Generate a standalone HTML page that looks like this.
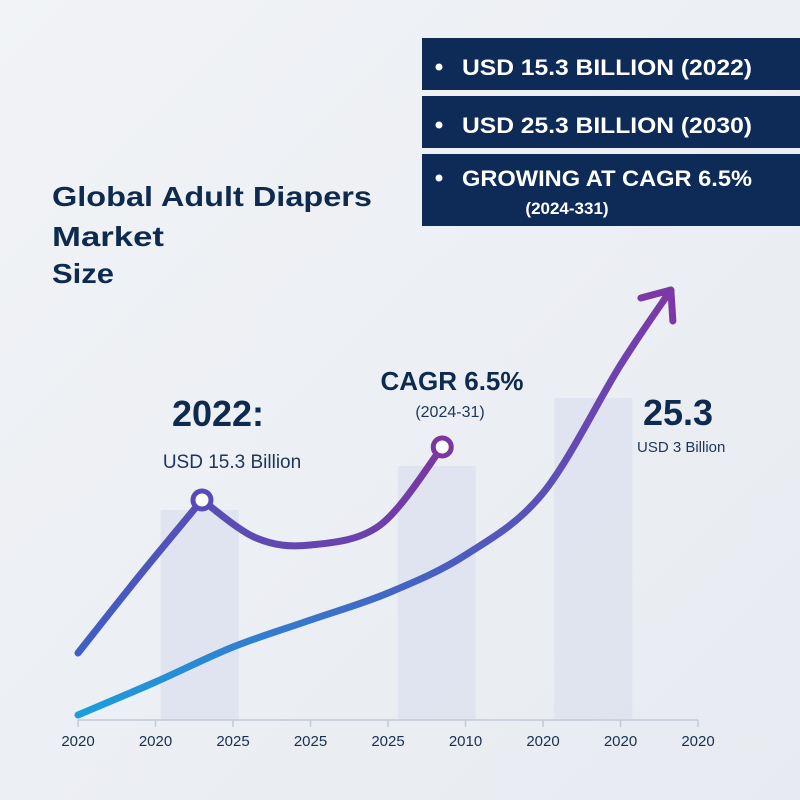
<!DOCTYPE html>
<html><head><meta charset="utf-8"><style>
body{margin:0;width:800px;height:800px;overflow:hidden;background:#eef1f5}
svg{display:block}
text{font-family:"Liberation Sans",sans-serif}
</style></head><body>
<svg width="800" height="800" viewBox="0 0 800 800">
<defs>
<linearGradient id="bg" x1="0" y1="0" x2="1" y2="1"><stop offset="0" stop-color="#f1f3f6"/><stop offset="1" stop-color="#e7ebf1"/></linearGradient>
<linearGradient id="gLow" x1="78" y1="715" x2="668" y2="290" gradientUnits="userSpaceOnUse"><stop offset="0" stop-color="#1a9fdc"/><stop offset="0.5" stop-color="#4760c2"/><stop offset="1" stop-color="#7c38a6"/></linearGradient>
<linearGradient id="gUp" x1="78" y1="653" x2="447" y2="447" gradientUnits="userSpaceOnUse"><stop offset="0" stop-color="#3f5fc4"/><stop offset="1" stop-color="#7c36a0"/></linearGradient>
</defs>
<rect width="800" height="800" fill="url(#bg)"/>
<g fill="#0e2b4f" font-weight="bold" font-size="28">
<text x="52" y="206" textLength="320" lengthAdjust="spacingAndGlyphs">Global Adult Diapers</text>
<text x="52" y="246" textLength="112" lengthAdjust="spacingAndGlyphs">Market</text>
<text x="52" y="283" textLength="62" lengthAdjust="spacingAndGlyphs">Size</text>
</g>
<g fill="#0e2b57">
<rect x="422" y="38" width="378" height="52"/>
<rect x="422" y="96" width="378" height="52"/>
<rect x="422" y="154" width="378" height="72"/>
</g>
<g fill="#ffffff" font-weight="bold" font-size="22">
<circle cx="439" cy="67" r="3.5"/><text x="462" y="75" textLength="290" lengthAdjust="spacingAndGlyphs">USD 15.3 BILLION (2022)</text>
<circle cx="439" cy="125" r="3.5"/><text x="462" y="133" textLength="290" lengthAdjust="spacingAndGlyphs">USD 25.3 BILLION (2030)</text>
<circle cx="439" cy="178" r="3.5"/><text x="462" y="186" textLength="290" lengthAdjust="spacingAndGlyphs">GROWING AT CAGR 6.5%</text>
<text x="567" y="214" font-size="17" text-anchor="middle">(2024-331)</text>
</g>
<g id="plot"></g>
<g fill="#0e2b4f">
<text x="218" y="426" font-size="36" font-weight="bold" text-anchor="middle">2022:</text>
<text x="232" y="468" font-size="19" text-anchor="middle" fill="#1e3555">USD 15.3 Billion</text>
<text x="452" y="390" font-size="26" font-weight="bold" text-anchor="middle">CAGR 6.5%</text>
<text x="450" y="417" font-size="16" text-anchor="middle" fill="#1e3555">(2024-31)</text>
<text x="643" y="425" font-size="36" font-weight="bold">25.3</text>
<text x="637" y="452" font-size="15" fill="#1e3555">USD 3 Billion</text>
</g>
</svg>
<script>
const tickLabels=["2020","2020","2025","2025","2025","2010","2020","2020","2020"];
const barIdx=[1.57,4.63,6.65];
const barValues=[21,25.4,32.2];
const upperX=[0,0.8,1.6];
const upperY=[6.7,14.5,22];
const upper2X=[1.6,2.3,3,3.9,4.7];
const upper2Y=[22,18.2,17.5,19.5,27.3];
const lowerX=[0,1,2,3,4,5,6,7,7.65];
const lowerY=[0.5,3.8,7.3,10,12.7,16.5,22.7,35.5,43];
const sx=i=>78+77.5*i;
const sy=v=>720-10*v;
const NS="http://www.w3.org/2000/svg";
const plot=document.getElementById('plot');
function mk(t,a){const e=document.createElementNS(NS,t);for(const k in a)e.setAttribute(k,a[k]);plot.appendChild(e);return e;}
barValues.forEach((v,i)=>{const b=mk('rect',{x:sx(barIdx[i])-39,y:sy(v),width:78,height:720-sy(v),fill:'#dde2ee',opacity:0.85});

});
const ax=mk('line',{x1:sx(0),y1:720,x2:sx(8),y2:720,stroke:'#c3c9d6','stroke-width':1.5});


tickLabels.forEach((t,i)=>{const tk=mk('line',{x1:sx(i),y1:720,x2:sx(i),y2:727,stroke:'#c3c9d6','stroke-width':1.5});


const tx=mk('text',{x:sx(i),y:746,'text-anchor':'middle','font-size':15,fill:'#1a2f50'});tx.textContent=t;

});
function path(xs,ys){const p=xs.map((x,i)=>[sx(x),sy(ys[i])]);let d='M'+p[0][0]+','+p[0][1];
for(let i=0;i<p.length-1;i++){const p0=p[i-1]||p[i],p1=p[i],p2=p[i+1],p3=p[i+2]||p2;
d+=' C'+(p1[0]+(p2[0]-p0[0])/6)+','+(p1[1]+(p2[1]-p0[1])/6)+' '+(p2[0]-(p3[0]-p1[0])/6)+','+(p2[1]-(p3[1]-p1[1])/6)+' '+p2[0]+','+p2[1];}return d;}
const st={fill:'none','stroke-width':7,'stroke-linecap':'round'};
const lo=mk('path',Object.assign({d:path(lowerX,lowerY),stroke:'url(#gLow)'},st));


const u1=mk('path',Object.assign({d:path(upperX,upperY),stroke:'url(#gUp)'},st));


const u2=mk('path',Object.assign({d:path(upper2X,upper2Y),stroke:'url(#gUp)'},st));


const n=lowerX.length;const tx_=sx(lowerX[n-1]),ty_=sy(lowerY[n-1]);
const ar=mk('polyline',{points:(tx_-30)+','+(ty_+8)+' '+tx_+','+ty_+' '+(tx_+2)+','+(ty_+31),fill:'none',stroke:'#7c38a6','stroke-width':7,'stroke-linecap':'round','stroke-linejoin':'round'});


[[upperX[2],upperY[2],'#5a4ab8'],[upper2X[4],upper2Y[4],'#7c36a0']].forEach(([x,y,c],i)=>{const m=mk('circle',{cx:sx(x),cy:sy(y),r:9,fill:'#fff',stroke:c,'stroke-width':5});

});
</script>
</body></html>
